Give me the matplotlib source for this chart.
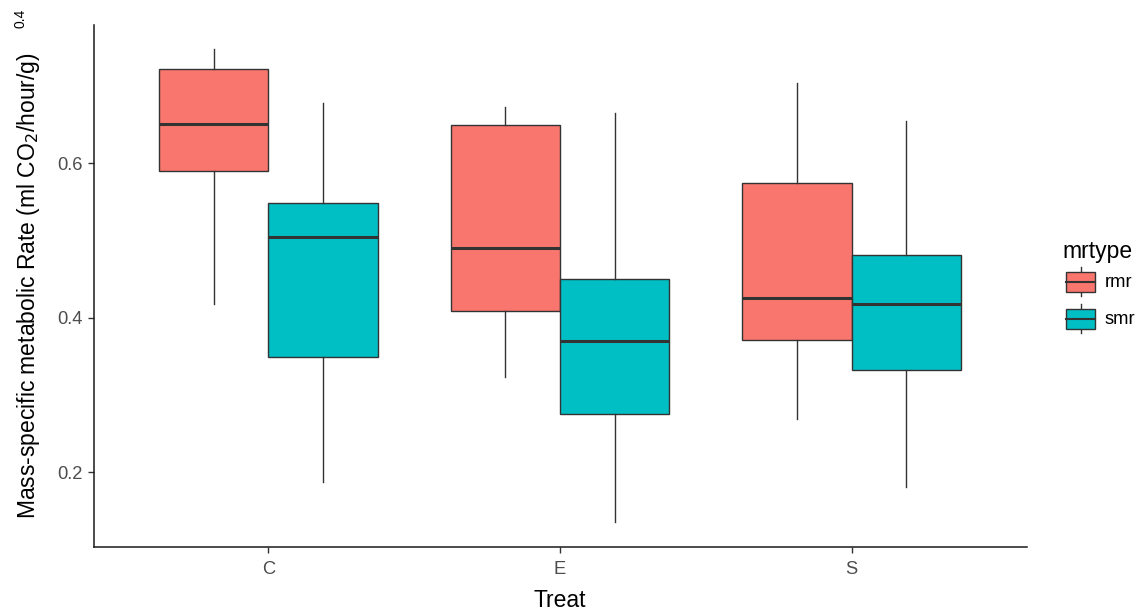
import matplotlib
matplotlib.use("Agg")
import matplotlib.pyplot as plt
import matplotlib.patches as patches
from matplotlib.lines import Line2D
from matplotlib.legend_handler import HandlerBase

plt.rcParams['font.family'] = ['Liberation Sans', 'DejaVu Sans']

# ==== DATA ====
treats = ["C", "E", "S"]
mrtypes = ["rmr", "smr"]
fill_colors = ["#F8766D", "#00BFC4"]

rmr_low = [0.418, 0.323, 0.269]
rmr_q1 = [0.590, 0.409, 0.371]
rmr_med = [0.651, 0.490, 0.426]
rmr_q3 = [0.722, 0.650, 0.575]
rmr_high = [0.748, 0.673, 0.704]

smr_low = [0.187, 0.136, 0.181]
smr_q1 = [0.349, 0.276, 0.332]
smr_med = [0.505, 0.370, 0.418]
smr_q3 = [0.549, 0.450, 0.481]
smr_high = [0.678, 0.665, 0.655]

yticks = [0.2, 0.4, 0.6]

series = {
    "rmr": (rmr_low, rmr_q1, rmr_med, rmr_q3, rmr_high),
    "smr": (smr_low, smr_q1, smr_med, smr_q3, smr_high),
}

# ==== FIGURE ====
fig = plt.figure(figsize=(11.47, 6.13), dpi=100)
ax = fig.add_axes([93.5 / 1147, 1 - 547.3 / 613, (1026.7 - 93.5) / 1147, (547.3 - 25) / 613])

dodge = 0.375
edge = "#333333"
for k, name in enumerate(mrtypes):
    lo, q1, med, q3, hi = series[name]
    stats = [dict(whislo=lo[i], q1=q1[i], med=med[i], q3=q3[i], whishi=hi[i], fliers=[])
             for i in range(len(treats))]
    pos = [i + 1 + (k - 0.5) * dodge for i in range(len(treats))]
    ax.bxp(stats, positions=pos, widths=dodge, showcaps=False, showfliers=False,
           patch_artist=True,
           boxprops=dict(facecolor=fill_colors[k], edgecolor=edge, linewidth=1.0),
           medianprops=dict(color=edge, linewidth=2.2, solid_capstyle="butt"),
           whiskerprops=dict(color=edge, linewidth=1.0))

ax.set_xlim(0.4, 3.6)
ax.set_ylim(0.103, 0.779)
ax.set_xticks(range(1, len(treats) + 1))
ax.set_xticklabels(treats)
ax.set_yticks(yticks)
ax.set_yticklabels([f"{v:.1f}" for v in yticks])

for s in ["top", "right"]:
    ax.spines[s].set_visible(False)
for s in ["left", "bottom"]:
    ax.spines[s].set_color("#1a1a1a")
    ax.spines[s].set_linewidth(1.1)
ax.tick_params(axis="both", colors="#333333", labelcolor="#4D4D4D", labelsize=13.2,
               length=4, width=1.0, pad=4)
ax.tick_params(axis="x", pad=6)

ax.set_xlabel("Treat", fontsize=16.5, color="black", labelpad=8)
ax.set_ylabel("Mass-specific metabolic Rate (ml CO$_2$/hour/g)", fontsize=16.5,
              color="black", labelpad=11)

# stray label in the top-left corner
fig.text(20.7 / 1147, 1 - 18 / 613, "0.4", rotation=90, fontsize=10,
         ha="center", va="center", color="black")


# ==== LEGEND ====
class BoxKeyHandler(HandlerBase):
    def create_artists(self, legend, orig_handle, xdescent, ydescent, width, height,
                       fontsize, trans):
        x0, y0 = -xdescent, -ydescent
        fc = orig_handle.get_facecolor()
        whisk = Line2D([x0 + width / 2] * 2, [y0 + 0.1 * height, y0 + 0.9 * height],
                       color=edge, linewidth=1.0, transform=trans)
        box = patches.Rectangle((x0 + 0.1 * width, y0 + 0.23 * height), 0.8 * width,
                                0.54 * height, facecolor=fc, edgecolor=edge,
                                linewidth=1.0, transform=trans)
        med = Line2D([x0 + 0.1 * width, x0 + 0.9 * width], [y0 + height / 2] * 2,
                     color=edge, linewidth=1.5, transform=trans)
        return [whisk, box, med]


handles = [patches.Patch(facecolor=c) for c in fill_colors]
leg = ax.legend(handles, mrtypes, title="mrtype", loc="upper left",
                bbox_to_anchor=(1062 / 1147, 1 - 240 / 613), bbox_transform=fig.transFigure,
                frameon=False, fontsize=13.2, title_fontsize=16.5,
                handlelength=2.02, handleheight=2.73, labelspacing=0.0,
                handletextpad=0.3, borderpad=0, borderaxespad=0, alignment="left",
                handler_map={patches.Patch: BoxKeyHandler()})

fig.savefig("out.png", dpi=100)
